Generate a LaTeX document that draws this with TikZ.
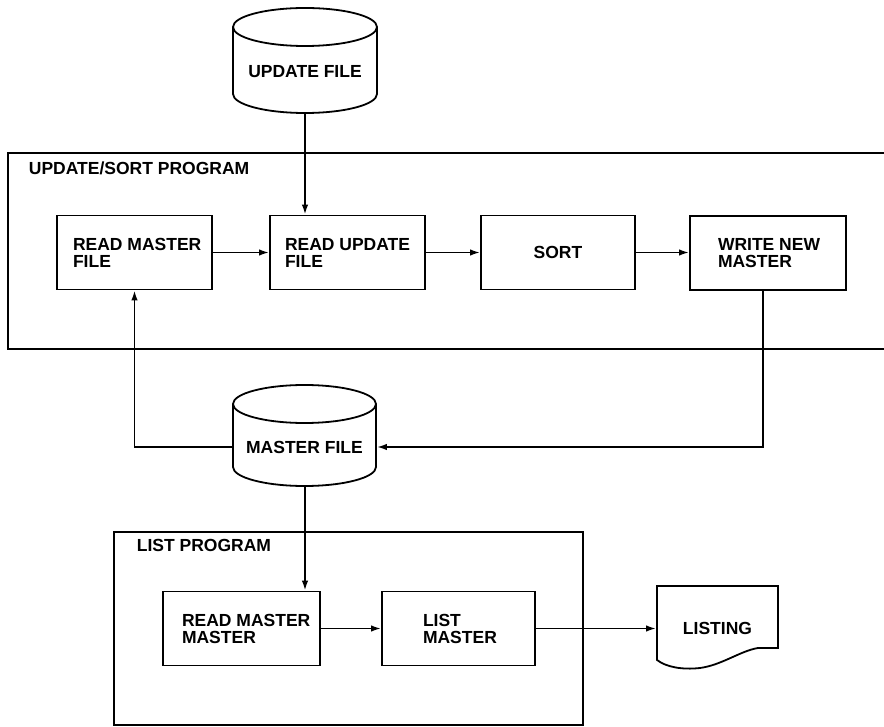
\documentclass[tikz,border=0pt]{standalone}
\usepackage{fontspec}
\setmainfont{Liberation Sans}
\usetikzlibrary{arrows.meta}
\begin{document}
\begin{tikzpicture}[x=1pt,y=-1pt,line width=1.8pt,
  txt/.style={font=\bfseries\fontsize{17.5}{17}\selectfont,inner sep=0pt,align=left},
  box/.style={draw,line width=1.8pt,inner sep=0pt,minimum width=#1,minimum height=74pt},
  box/.default=155pt,
  arr/.style={-{Latex[length=10pt,width=6.5pt]}}]
\useasboundingbox (0,0) rectangle (884,727);

% update file cylinder
\draw (233,27) -- (233,94) arc[start angle=180,end angle=360,x radius=72pt,y radius=19pt] -- (377,27);
\draw (305,27) ellipse[x radius=72pt,y radius=19pt];
\node[txt,minimum width=144pt] (upd) at (305,72) {UPDATE FILE};
\coordinate (updbot) at (305,113);

% update/sort program container
\draw (886,153) -- (8,153) -- (8,349) -- (886,349);
\node[txt,anchor=west] (usp) at (28,168) {UPDATE/SORT PROGRAM};

\node[box] (rmf) at (134.5,252.5) {};
\node[txt,anchor=west] (rmft) at ([xshift=16pt]rmf.west) {READ MASTER\\FILE};
\node[box] (rut) at (347.5,252.5) {};
\node[txt,anchor=west] (rutt) at ([xshift=15pt]rut.west) {READ UPDATE\\FILE};
\node[box=154pt,txt] (sort) at (558,252.5) {SORT};
\node[box=156pt] (wnm) at (768,253) {};
\node[txt,anchor=west] (wnmt) at ([xshift=28pt]wnm.west) {WRITE NEW\\MASTER};

% master file cylinder
\draw (233,404) -- (233,467) arc[start angle=180,end angle=360,x radius=71.5pt,y radius=19pt] -- (376,404);
\draw (304.5,404) ellipse[x radius=71.5pt,y radius=19pt];
\node[txt,minimum width=143pt] (mf) at (304.5,447) {MASTER FILE};
\coordinate (mfbot) at (305,486);

% list program container
\draw (114,532) rectangle (583,725);
\node[txt,anchor=west] (lp) at (136,545) {LIST PROGRAM};

\node[box=157pt] (rmm) at (241.5,628.5) {};
\node[txt,anchor=west] (rmmt) at ([xshift=19pt]rmm.west) {READ MASTER\\MASTER};
\node[box=153pt] (lm) at (458.5,628.5) {};
\node[txt,anchor=west] (lmt) at ([xshift=41pt]lm.west) {LIST\\MASTER};

% listing document
\draw (657,586) -- (778,586) -- (778,648) -- (758,648)
  .. controls (740,651) and (722,665) .. (700,668)
  .. controls (682,670) and (666,667) .. (657,660) -- cycle;
\node[txt,minimum width=121pt,minimum height=20pt] (lst) at (717.5,628.5) {LISTING};

% connectors
\draw[arr] (updbot) -- (updbot |- rut.north);
\draw[arr] (rmf.east) -- (rut.west);
\draw[arr] (rut.east) -- (sort.west);
\draw[arr] (sort.east) -- (sort.east -| wnm.west);
\draw[arr] ([xshift=-5pt]wnm.south) |- (mf.east);
\draw[arr] (mf.west) -| (rmf.south);
\draw[arr] (mfbot) -- (mfbot |- rmm.north);
\draw[arr] (rmm.east) -- (lm.west);
\draw[arr] (lm.east) -- (lst.west);
\end{tikzpicture}
\end{document}
